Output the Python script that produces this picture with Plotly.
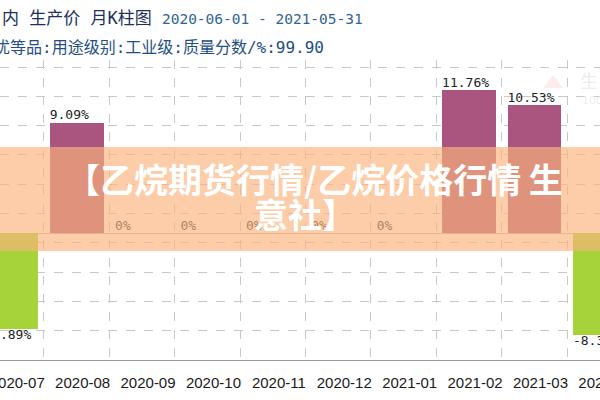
import plotly.graph_objects as go

# ---- data ----
months = ["2020-07", "2020-08", "2020-09", "2020-10", "2020-11",
          "2020-12", "2021-01", "2021-02", "2021-03", "2021-04"]
changes = [-7.89, 9.09, 0, 0, 0, 0, 0, 11.76, 10.53, -8.36]
title_line1_a = "内 生产价 月K柱图 "
title_line1_b = "2020-06-01 - 2021-05-31"
title_line2 = "优等品:用途级别:工业级:质量分数/%:99.90"
watermark_line1 = "【乙烷期货行情/乙烷价格行情 生"
watermark_line2 = "意社】"

POS_COLOR = "#AA5580"
NEG_COLOR = "#A6D33A"
BAR_W = 0.824

idx = list(range(len(months)))
labels = ["0%" if v == 0 else f"{v:.2f}%" for v in changes]
bar_colors = [NEG_COLOR if v < 0 else POS_COLOR for v in changes]

fig = go.Figure()
fig.add_trace(go.Bar(
    x=idx, y=changes, width=BAR_W,
    marker=dict(color=bar_colors, line=dict(width=0)),
    hoverinfo="skip", showlegend=False,
))
fig.add_trace(go.Scatter(
    x=[i - BAR_W / 2 for i in idx], y=changes, mode="text", text=labels,
    textposition=["bottom right" if v < 0 else "top right" for v in changes],
    textfont=dict(family="DejaVu Sans Mono", size=13, color="#222222"),
    hoverinfo="skip", showlegend=False,
))

W, H = 600, 400
TOP, BOT = 60, 360
def py(p):  # pixel y -> paper y
    return (BOT - p) / (BOT - TOP)

fig.update_layout(
    width=W, height=H,
    margin=dict(l=0, r=0, t=TOP, b=H - BOT, pad=0, autoexpand=False),
    paper_bgcolor="white", plot_bgcolor="white",
    bargap=0,
    xaxis=dict(
        range=[-0.1718, 9.002],
        automargin=False,
        tickmode="array", tickvals=idx, ticktext=months,
        ticklabelshift=6, ticklabelstandoff=9,
        ticklabeloverflow="allow",
        tickfont=dict(family="Liberation Sans", size=15, color="#1a1a1a"),
        showgrid=False, ticks="",
        showline=True, linecolor="#999999", linewidth=1,
        zeroline=False, fixedrange=True,
        minor=dict(tickmode="array", tickvals=[i + 0.5 for i in idx],
                   showgrid=True, gridcolor="#c8c8c8", griddash="dash",
                   gridwidth=1, ticks=""),
    ),
    yaxis=dict(
        range=[-10.41, 14.24],
        automargin=False,
        tickmode="linear", tick0=-10.41, dtick=2.407,
        showticklabels=False, ticks="",
        showgrid=True, gridcolor="#c8c8c8", griddash="dash", gridwidth=1,
        zeroline=True, zerolinecolor="#bbbbbb", zerolinewidth=1,
        fixedrange=True,
    ),
)

# semi-transparent watermark band
fig.add_shape(type="rect", xref="paper", yref="paper",
              x0=0, x1=1, y0=py(251), y1=py(147),
              fillcolor="rgba(250,179,123,0.66)", line=dict(width=0),
              layer="above")

# faint logo at top right
fig.add_shape(type="path", xref="paper", yref="paper",
              path=f"M {543/600} {py(88)} L {553/600} {py(75)} L {563/600} {py(88)} Z",
              fillcolor="rgba(245,200,200,0.35)", line=dict(width=0), layer="above")
fig.add_annotation(xref="paper", yref="paper", x=578/600, y=py(80),
                   xanchor="left", yanchor="middle", showarrow=False,
                   text="生意社", font=dict(family="Noto Sans CJK SC", size=18,
                                          color="rgba(225,225,225,0.6)"))
fig.add_annotation(xref="paper", yref="paper", x=580/600, y=py(100),
                   xanchor="left", yanchor="middle", showarrow=False,
                   text="100ppi", font=dict(family="DejaVu Sans", size=11,
                                            color="rgba(225,225,225,0.6)"))

# title lines (cropped at left edge)
fig.add_annotation(xref="paper", yref="paper", x=0, y=py(18),
                   xanchor="left", yanchor="middle", showarrow=False,
                   text=f'<span style="color:#1c2f5e;font-size:17px">{title_line1_a}</span>'
                        f'<span style="color:#2f6596;font-size:14.5px">{title_line1_b}</span>',
                   font=dict(family="DejaVu Sans Mono, Noto Sans CJK SC", size=15))
fig.add_annotation(xref="paper", yref="paper", x=-8/600, y=py(47),
                   xanchor="left", yanchor="middle", showarrow=False,
                   text=title_line2,
                   font=dict(family="DejaVu Sans Mono, Noto Sans CJK SC", size=16,
                             color="#234e86"))

# watermark text
fig.add_annotation(xref="paper", yref="paper", x=314/600, y=py(178),
                   xanchor="center", yanchor="middle", showarrow=False,
                   text=watermark_line1,
                   font=dict(family="Noto Sans CJK SC", size=34, color="white", weight=700))
fig.add_annotation(xref="paper", yref="paper", x=305/600, y=py(213),
                   xanchor="center", yanchor="middle", showarrow=False,
                   text=watermark_line2,
                   font=dict(family="Noto Sans CJK SC", size=34, color="white", weight=700))

fig.write_html("out.html", config={"displayModeBar": False})
